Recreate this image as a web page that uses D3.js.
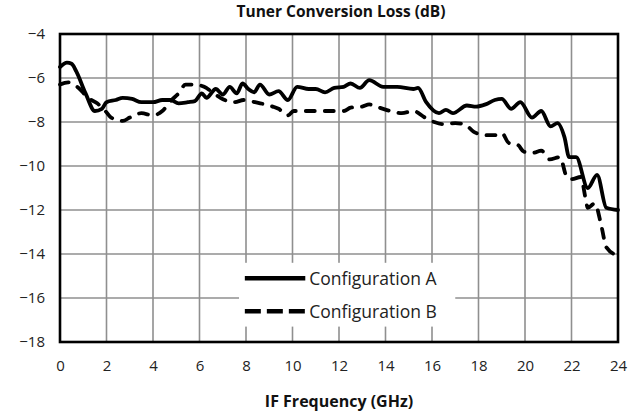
<!DOCTYPE html>
<html>
<head>
<meta charset="utf-8">
<script src="https://cdn.jsdelivr.net/npm/d3@7"></script>
<style>
  html, body { margin: 0; padding: 0; background: #fff; }
  svg { display: block; }
</style>
</head>
<body>
<svg id="chart" width="640" height="419"></svg>
<script>
// Frequency axis (GHz) and conversion loss (dB) readings
const freqA = [0, 0.3, 0.5, 0.7, 1.1, 1.5, 1.8, 2.0, 2.4, 2.7, 3.1, 3.5, 4.0, 4.4, 4.75, 5.1, 5.5, 5.8,
  6.1, 6.3, 6.7, 7.0, 7.3, 7.6, 7.85, 8.1, 8.35, 8.6, 9.0, 9.4, 9.8, 10.2, 10.7, 11.0, 11.4, 11.8,
  12.2, 12.5, 12.9, 13.3, 13.9, 14.5, 15.2, 15.4, 15.75, 16.3, 16.6, 16.9, 17.5, 17.9, 18.3, 18.7,
  19.0, 19.4, 19.8, 20.3, 20.7, 21.1, 21.4, 21.7, 21.9, 22.2, 22.7, 23.1, 23.5, 24.0];
const lossA = [-5.5, -5.3, -5.35, -5.7, -6.7, -7.5, -7.4, -7.1, -7.0, -6.9, -6.95, -7.1, -7.1, -7.0, -7.0, -7.15, -7.1, -7.05,
  -6.7, -6.9, -6.5, -6.75, -6.4, -6.7, -6.25, -6.5, -6.65, -6.3, -6.75, -6.6, -7.0, -6.4, -6.5, -6.5, -6.65, -6.45,
  -6.4, -6.25, -6.45, -6.1, -6.4, -6.4, -6.5, -6.45, -7.1, -7.6, -7.45, -7.6, -7.25, -7.3, -7.2, -7.0,
  -6.95, -7.4, -7.1, -7.8, -7.5, -8.2, -8.05, -8.7, -9.6, -9.6, -11.0, -10.4, -11.9, -12.0];

const freqB = [0, 0.35, 0.8, 1.2, 1.6, 1.95, 2.2, 2.7, 3.0, 3.5, 4.0, 4.4, 4.8, 5.1, 5.4, 5.8, 6.2, 6.5, 6.9,
  7.5, 7.9, 8.4, 9.15, 9.4, 9.8, 10.05, 10.7, 11.5, 12.2, 12.5, 13.0, 13.3, 13.6, 14.2, 14.7, 15.2, 15.7,
  16.1, 16.5, 17.0, 17.4, 17.8, 18.3, 18.7, 19.0, 19.3, 19.7, 19.95, 20.35, 20.7, 21.06, 21.5, 21.8, 22.0,
  22.4, 22.6, 22.7, 23.0, 23.3, 23.5, 23.9, 24.0];
const lossB = [-6.3, -6.2, -6.45, -6.9, -7.15, -7.5, -7.8, -7.95, -7.8, -7.6, -7.7, -7.5, -7.0, -6.7, -6.3, -6.3, -6.4, -6.6, -6.9,
  -7.1, -7.0, -7.1, -7.3, -7.4, -7.7, -7.5, -7.5, -7.5, -7.5, -7.35, -7.3, -7.2, -7.3, -7.5, -7.6, -7.5, -7.8,
  -8.0, -8.1, -8.05, -8.1, -8.45, -8.6, -8.6, -8.5, -8.95, -9.05, -9.35, -9.4, -9.3, -9.7, -9.6, -10.5, -10.6,
  -10.5, -11.45, -11.9, -11.7, -12.8, -13.7, -14.0, -14.0];

const seriesNames = ["Configuration A", "Configuration B"];
const xTicks = [0, 2, 4, 6, 8, 10, 12, 14, 16, 18, 20, 22, 24];
const yTicks = [-4, -6, -8, -10, -12, -14, -16, -18];
const chartTitle = "Tuner Conversion Loss (dB)";
const xTitle = "IF Frequency (GHz)";

const svg = d3.select("#chart");
const margin = { left: 60, right: 22, top: 34, bottom: 77 };
const W = 640, H = 419;
const x = d3.scaleLinear().domain([0, 24]).range([margin.left, W - margin.right]);
const y = d3.scaleLinear().domain([-18, -4]).range([H - margin.bottom, margin.top]);

const font = "'Open Sans', 'Noto Sans', sans-serif";

// grid
const grid = svg.append("g").attr("stroke", "#8f8f8f").attr("stroke-width", 1.6);
grid.selectAll("line.v").data(xTicks.slice(1, -1)).join("line")
  .attr("x1", d => x(d)).attr("x2", d => x(d))
  .attr("y1", y(-4)).attr("y2", y(-18));
grid.selectAll("line.h").data(yTicks.slice(1, -1)).join("line")
  .attr("x1", x(0)).attr("x2", x(24))
  .attr("y1", d => y(d)).attr("y2", d => y(d));

// axes (labels only)
const xAxis = d3.axisBottom(x).tickValues(xTicks).tickSize(0).tickPadding(18);
const gx = svg.append("g").attr("transform", `translate(0,${y(-18)})`).call(xAxis);
const yAxis = d3.axisLeft(y).tickValues(yTicks).tickSize(0).tickPadding(15);
const gy = svg.append("g").attr("transform", `translate(${x(0)},0)`).call(yAxis);
[gx, gy].forEach(g => {
  g.select(".domain").remove();
  g.selectAll("text").attr("font-family", font).attr("font-size", 15).attr("fill", "#222");
});

// legend background hides the grid beneath it
const legend = svg.append("g");
legend.append("rect")
  .attr("x", x(7.7)).attr("y", y(-14.4))
  .attr("width", x(17.0) - x(7.7)).attr("height", y(-17.3) - y(-14.4))
  .attr("fill", "#fff");

// series lines
const line = d3.line().x(d => x(d[0])).y(d => y(d[1])).curve(d3.curveMonotoneX);
const dataA = freqA.map((f, i) => [f, lossA[i]]);
const dataB = freqB.map((f, i) => [f, lossB[i]]);

svg.append("path").datum(dataB).attr("d", line)
  .attr("fill", "none").attr("stroke", "#000").attr("stroke-width", 3.8)
  .attr("stroke-dasharray", "9,10").attr("stroke-linecap", "round").attr("stroke-linejoin", "round");
svg.append("path").datum(dataA).attr("d", line)
  .attr("fill", "none").attr("stroke", "#000").attr("stroke-width", 3.8)
  .attr("stroke-linejoin", "round").attr("stroke-linecap", "round");

// legend entries
const lx0 = x(7.95), lx1 = x(10.55);
const legRows = [{ name: seriesNames[0], dash: null, yv: -15.1 }, { name: seriesNames[1], dash: "16,6", yv: -16.6 }];
legRows.forEach(r => {
  legend.append("line")
    .attr("x1", lx0).attr("x2", lx1).attr("y1", y(r.yv)).attr("y2", y(r.yv))
    .attr("stroke", "#000").attr("stroke-width", 4.5)
    .attr("stroke-dasharray", r.dash);
  legend.append("text")
    .attr("x", lx1 + 4).attr("y", y(r.yv)).attr("dy", "0.36em")
    .attr("font-family", font).attr("font-size", 17.5).attr("fill", "#222")
    .text(r.name);
});

// frame
svg.append("rect")
  .attr("x", x(0)).attr("y", y(-4))
  .attr("width", x(24) - x(0)).attr("height", y(-18) - y(-4))
  .attr("fill", "none").attr("stroke", "#000").attr("stroke-width", 2.6);

// titles
svg.append("text").attr("x", (x(0) + x(24)) / 2 + 2).attr("y", 17)
  .attr("text-anchor", "middle").attr("font-family", font).attr("font-weight", "bold")
  .attr("font-size", 15.5).attr("fill", "#111").text(chartTitle);
svg.append("text").attr("x", (x(0) + x(24)) / 2).attr("y", 407)
  .attr("text-anchor", "middle").attr("font-family", font).attr("font-weight", "bold")
  .attr("font-size", 16).attr("fill", "#111").text(xTitle);
</script>
</body>
</html>
